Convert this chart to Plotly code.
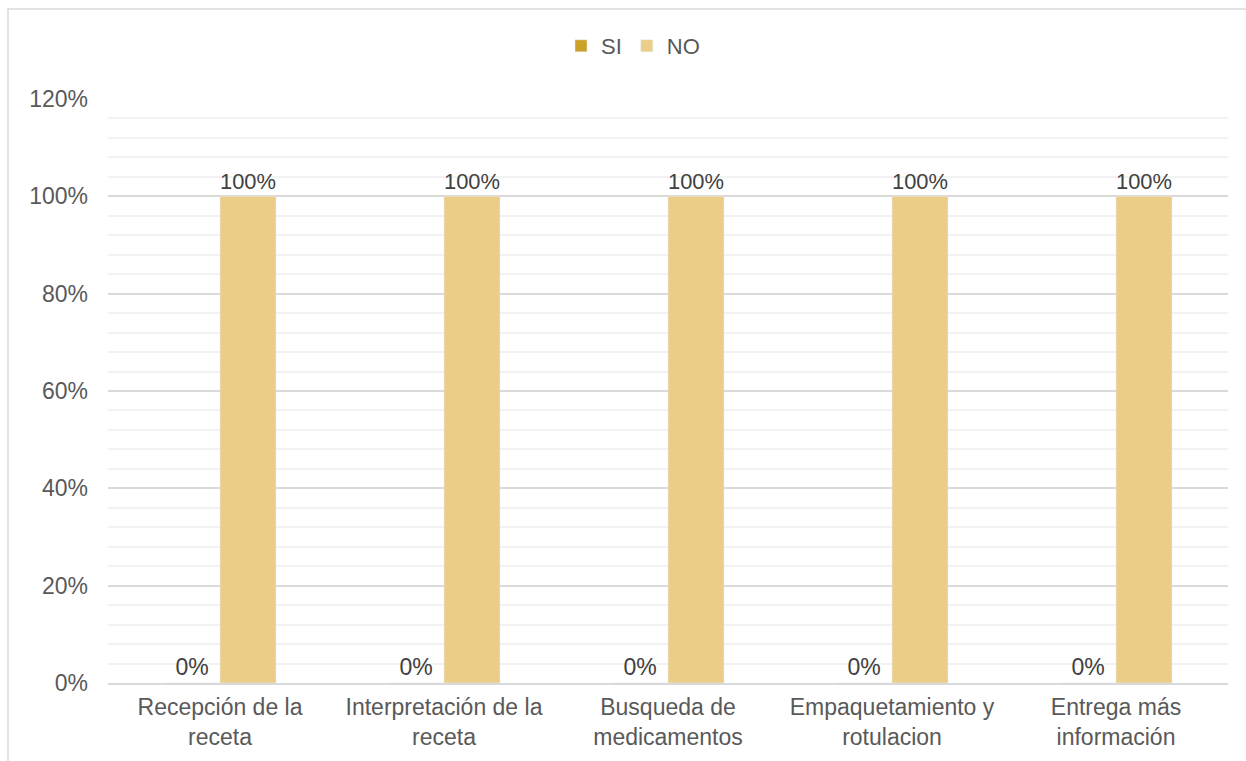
import plotly.graph_objects as go

categories = ["Recepción de la<br>receta", "Interpretación de la<br>receta", "Busqueda de<br>medicamentos",
              "Empaquetamiento y<br>rotulacion", "Entrega más<br>información"]
si_values = [0, 0, 0, 0, 0]
no_values = [1, 1, 1, 1, 1]
tick_vals = [0, 0.2, 0.4, 0.6, 0.8, 1.0, 1.2]
tick_text = ["0%", "20%", "40%", "60%", "80%", "100%", "120%"]

FONT = "Liberation Sans, Arial, sans-serif"
TXT = "#595959"
FS = 23

fig = go.Figure()
fig.add_trace(go.Bar(name="SI", x=categories, y=si_values, marker_color="#CBA227",
                     text=[f"{v:.0%}" for v in si_values], textposition="outside",
                     textfont=dict(color="#404040", size=FS), cliponaxis=False))
fig.add_trace(go.Bar(name="NO", x=categories, y=no_values, marker_color="#EBCD87",
                     text=[f"{v:.0%}" for v in no_values], textposition="outside",
                     textfont=dict(color="#404040", size=FS), cliponaxis=False))

L, R, T, B = 108, 18, 99, 78
W, H = 1246, 761
pw, ph = W - L - R, H - T - B

fig.update_layout(
    width=W, height=H, barmode="group", bargap=0.5, bargroupgap=0,
    margin=dict(l=L, r=R, t=T, b=B, pad=0, autoexpand=False),
    paper_bgcolor="white", plot_bgcolor="white",
    font=dict(family=FONT, size=FS, color=TXT),
    legend=dict(orientation="h", x=(633 - L) / pw, xanchor="center", y=1 + (T - 46) / ph, yanchor="middle",
                font=dict(size=22, color=TXT), itemwidth=30, traceorder="normal"),
    xaxis=dict(showgrid=False, showline=True, linecolor="#D9D9D9", linewidth=2, automargin=False,
               tickfont=dict(size=FS, color=TXT), ticks="", ticklabelstandoff=2),
    yaxis=dict(range=[0, 1.2], tickvals=tick_vals, ticktext=tick_text, showgrid=True, automargin=False,
               gridcolor="#D9D9D9", gridwidth=1.5, zeroline=False, showline=False,
               tickfont=dict(size=FS, color=TXT), ticks="", ticklabelstandoff=19,
               minor=dict(dtick=0.04, showgrid=True, gridcolor="#F2F2F2", gridwidth=1.5, tick0=0)),
    shapes=[dict(type="rect", xref="paper", yref="paper",
                 x0=(8 - L) / pw, x1=1 + (R + 20) / pw,
                 y0=-(B + 20) / ph, y1=1 + (T - 9) / ph,
                 line=dict(color="#D9D9D9", width=1.5), fillcolor="rgba(0,0,0,0)", layer="below")],
)
fig.write_html("out.html", config={"displayModeBar": False},
               post_script="document.body.style.margin='0';document.body.style.overflow='hidden';")
